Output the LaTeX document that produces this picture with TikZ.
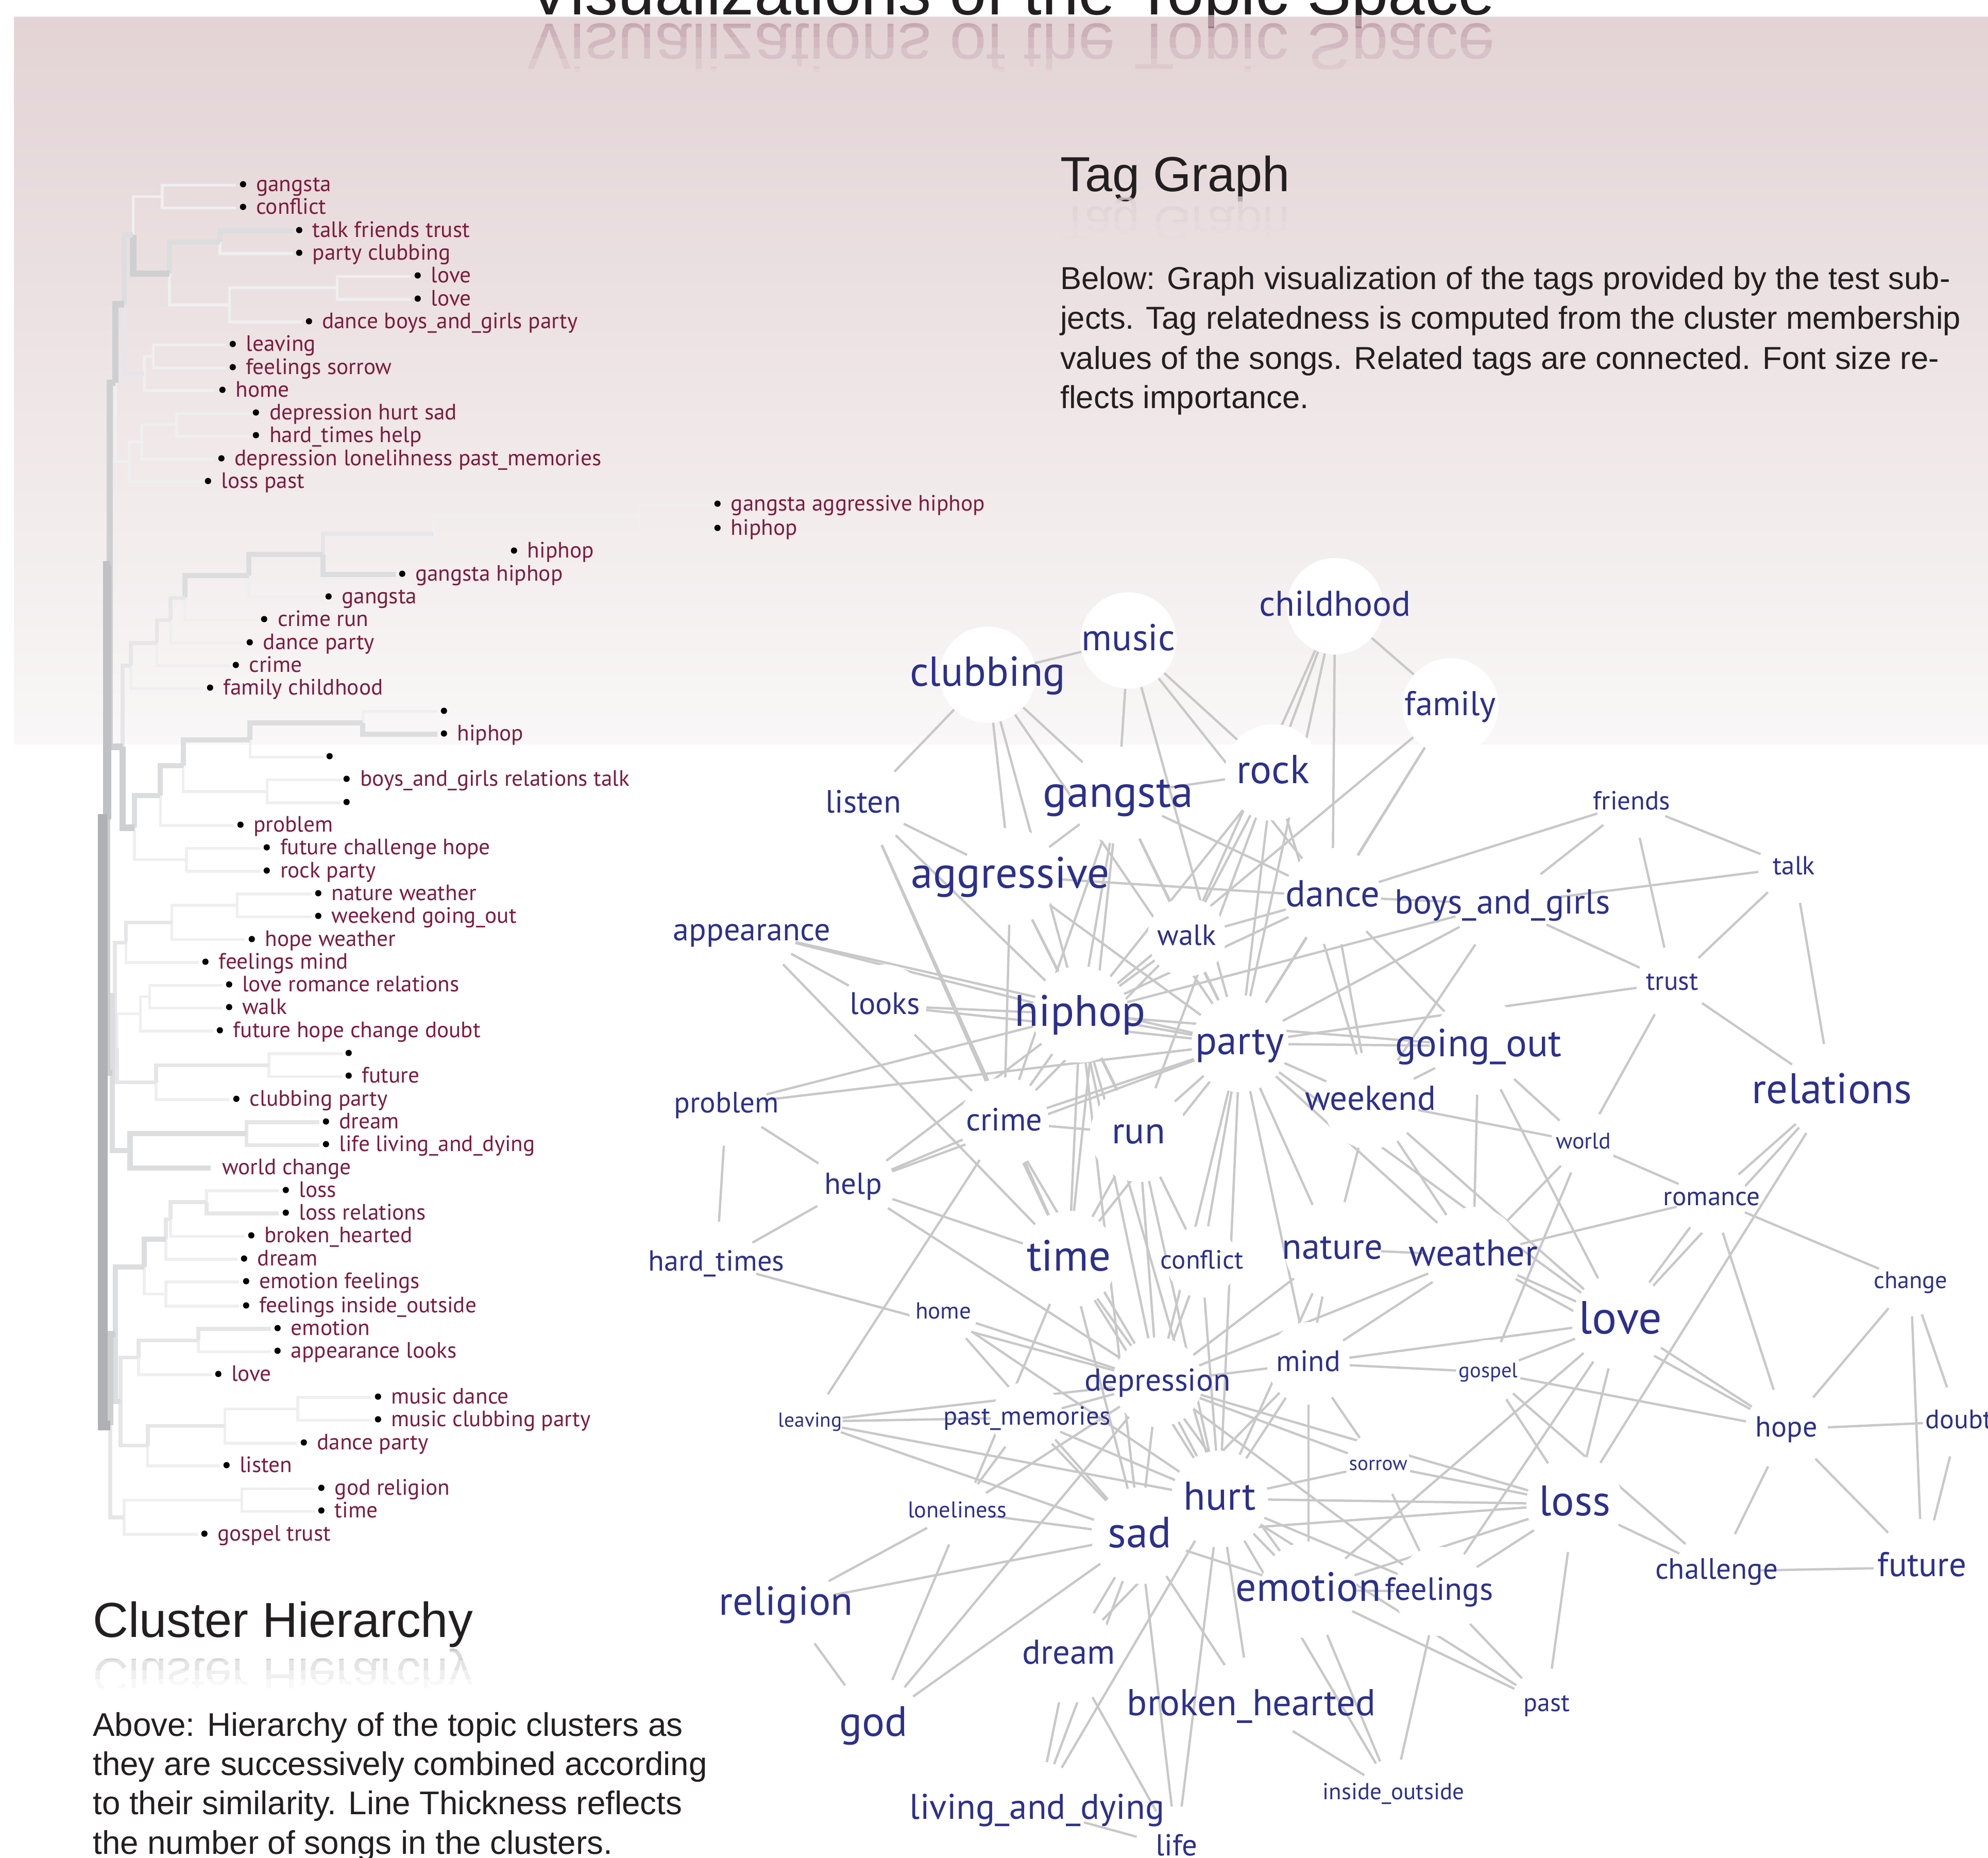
\documentclass[tikz,border=0pt]{standalone}
\usepackage{fontspec}
\setmainfont{Liberation Sans}
\newfontfamily\tagfont{PT Sans}

\pgfdeclarelayer{bg}
\pgfdeclarelayer{edges}
\pgfdeclarelayer{halos}
\pgfsetlayers{bg,edges,halos,main}

\definecolor{bgtop}{RGB}{227,211,213}
\definecolor{bgbot}{RGB}{249,247,247}
\definecolor{ink}{RGB}{35,31,32}
\definecolor{leafred}{RGB}{125,27,62}
\definecolor{tagblue}{RGB}{44,48,140}
\definecolor{linkgray}{RGB}{200,200,200}
\definecolor{mirrorpink}{RGB}{196,164,174}
\definecolor{mirrorrose}{RGB}{222,208,212}
\definecolor{mirrorgray}{RGB}{196,196,196}
\definecolor{br1}{RGB}{239,239,240}
\definecolor{br2}{RGB}{230,230,232}
\definecolor{br3}{RGB}{220,221,223}
\definecolor{br4}{RGB}{206,207,209}
\definecolor{br5}{RGB}{192,193,196}
\definecolor{br6}{RGB}{176,177,181}

\pgfdeclareverticalshading{backdrop}{100bp}{color(0bp)=(bgbot); color(25bp)=(bgbot); color(75bp)=(bgtop); color(100bp)=(bgtop)}

\newcommand\bul{\textcolor{black}{\textbullet}\hspace{4.5pt}}

\begin{document}
\begin{tikzpicture}[x=0.25mm, y=-0.25mm,
  d1/.style={draw=br1, line width=1.6pt},
  d2/.style={draw=br2, line width=2.2pt},
  d3/.style={draw=br3, line width=2.9pt},
  d4/.style={draw=br4, line width=3.6pt},
  d5/.style={draw=br5, line width=4.4pt},
  d6/.style={draw=br6, line width=5.6pt},
  leaf/.style={anchor=base west, inner sep=0pt, text=leafred, font=\tagfont\fontsize{12.5}{14}\selectfont},
  halo/.style={circle, fill=white, minimum size=#1, inner sep=0pt},
  link/.style={draw=linkgray, line width=1.3pt},
  tag/.style={anchor=base, inner sep=0pt, text=tagblue, yshift={-0.27*#1pt}, font=\tagfont\fontsize{#1}{#1}\selectfont},
  head/.style={anchor=base west, inner sep=0pt, text=ink, font=\fontsize{27.6}{30}\selectfont},
  mirror/.style={yscale=-1, transform shape},
  para/.style={anchor=base west, inner sep=0pt, text=ink, font=\fontsize{17.8}{22}\selectfont}]
\useasboundingbox (0,0) rectangle (1568,1465);

% background
\begin{pgfonlayer}{bg}
\fill[white] (0,0) rectangle (1568,1465);
\shade[shading=backdrop] (11,13) rectangle (1568,587);
\draw[gray!12, line width=0.8pt] (11,13) -- (1568,13);
\end{pgfonlayer}

% headings and their mirror images
\node[anchor=base, inner sep=0pt, text=ink, font=\fontsize{37.2}{40}\selectfont] (title) at (797.5,11.5) {Visualizations of the Topic Space};
\foreach \k/\o in {0/0.9, 1/0.72, 2/0.55, 3/0.38, 4/0.22, 5/0.08} {
  \begin{scope}
    \clip (380,{12+8.4*\k}) rectangle (1220,{12+8.4*(\k+1)});
    \node[anchor=base, inner sep=0pt, mirror, text=mirrorpink, text opacity=\o, font=\fontsize{37.2}{40}\selectfont] (title-m\k) at (797.5,19) {Visualizations of the Topic Space};
  \end{scope}}

\node[head] (tag-head) at (836,151) {Tag Graph};
\foreach \k/\o in {0/0.8, 1/0.6, 2/0.4, 3/0.22, 4/0.08} {
  \begin{scope}
    \clip (826,{153+7*\k}) rectangle (1030,{153+7*(\k+1)});
    \node[head, mirror, text=mirrorrose, text opacity=\o] (tag-head-m\k) at (836,163) {Tag Graph};
  \end{scope}}

\node[para] (tag-p1) at (836,228) {Below: Graph visualization of the tags provided by the test sub-};
\node[para] (tag-p2) at (836,259.5) {jects. Tag relatedness is computed from the cluster membership};
\node[para] (tag-p3) at (836,291) {values of the songs. Related tags are connected. Font size re-};
\node[para] (tag-p4) at (836,322) {flects importance.};

\node[head] (clu-head) at (73,1291) {Cluster Hierarchy};
\foreach \k/\o in {0/0.85, 1/0.65, 2/0.45, 3/0.27, 4/0.1} {
  \begin{scope}
    \clip (63,{1294+7.5*\k}) rectangle (390,{1294+7.5*(\k+1)});
    \node[head, mirror, text=mirrorgray, text opacity=\o] (clu-head-m\k) at (73,1308) {Cluster Hierarchy};
  \end{scope}}

\node[para, font=\fontsize{18.4}{22}\selectfont] (clu-p1) at (73,1369) {Above: Hierarchy of the topic clusters as};
\node[para, font=\fontsize{18.4}{22}\selectfont] (clu-p2) at (73,1400) {they are successively combined according};
\node[para, font=\fontsize{18.4}{22}\selectfont] (clu-p3) at (73,1431) {to their similarity. Line Thickness reflects};
\node[para, font=\fontsize{18.4}{22}\selectfont] (clu-p4) at (73,1462) {the number of songs in the clusters.};

% dendrogram, first block
\draw[d1] (186,146) -| (128,155);
\draw[d1] (186,164) -| (128,155);
\draw[d3] (231,182) -| (173.5,191);
\draw[d1] (231,200) -| (173.5,191);
\draw[d1] (324,218) -| (266,227);
\draw[d1] (324,236) -| (266,227);
\draw[d1] (266,227) -| (181,240.5);
\draw[d1] (238,254) -| (181,240.5);
\draw[d1] (181,240.5) -| (133.6,215.8);
\draw[d3] (173.5,191) -| (133.6,215.8);
\draw[d1] (128,155) -| (105,185.4);
\draw[d4] (133.6,215.8) -| (105,185.4);
\draw[d1] (178,272) -| (120.8,281);
\draw[d1] (178,290) -| (120.8,281);
\draw[d1] (120.8,281) -| (113.7,294.5);
\draw[d1] (170,308) -| (113.7,294.5);
\draw[d2] (113.7,294.5) -| (98,240);
\draw[d3] (105,185.4) -| (98,240);
\draw[d1] (197,326) -| (139.3,335);
\draw[d1] (197,344) -| (139.3,335);
\draw[d1] (139.3,335) -| (111.7,348.5);
\draw[d1] (169,362) -| (111.7,348.5);
\draw[d1] (111.7,348.5) -| (101.7,364);
\draw[d1] (159,380) -| (101.7,364);
\draw[d1] (101.7,364) -| (91,302);
\draw[d4] (98,240) -| (91,302);

% second block
\draw[d1] (561,398) -| (504,407.5);
\draw[d1] (561,417) -| (504,407.5);
\draw[d1] (504,407.5) -| (341.7,421);
\draw[d1] (400,435) -| (341.7,421);
\draw[d2] (341.7,421) -| (254.8,437);
\draw[d3] (312,453) -| (254.8,437);
\draw[d3] (254.8,437) -| (196.3,454);
\draw[d1] (254,471) -| (196.3,454);
\draw[d3] (196.3,454) -| (145.9,471.5);
\draw[d1] (203,489) -| (145.9,471.5);
\draw[d2] (145.9,471.5) -| (134.5,489);
\draw[d1] (192,507) -| (134.5,489);
\draw[d2] (134.5,489) -| (123.7,507);
\draw[d1] (181,525) -| (123.7,507);
\draw[d2] (123.7,507) -| (103.1,525);
\draw[d1] (160,543) -| (103.1,525);

% third block
\draw[d1] (345,561) -| (286.2,570);
\draw[d3] (345,579) -| (286.2,570);
\draw[d3] (286.2,570) -| (197.2,583.5);
\draw[d1] (255,597) -| (197.2,583.5);
\draw[d1] (268.5,615) -| (210.6,624);
\draw[d1] (268.5,633) -| (210.6,624);
\draw[d1] (210.6,624) -| (144.5,603.8);
\draw[d3] (197.2,583.5) -| (144.5,603.8);
\draw[d3] (144.5,603.8) -| (126.5,627.4);
\draw[d1] (184,651) -| (126.5,627.4);
\draw[d1] (205,669) -| (147,678);
\draw[d1] (205,687) -| (147,678);
\draw[d1] (147,678) -| (106,652.7);
\draw[d3] (126.5,627.4) -| (106,652.7);
\draw[d2] (103.1,525) -| (96.6,588.9);
\draw[d4] (106,652.7) -| (96.6,588.9);

% fourth block
\draw[d1] (246,705) -| (187.2,714);
\draw[d1] (246,723) -| (187.2,714);
\draw[d1] (187.2,714) -| (135.6,727.5);
\draw[d1] (193,741) -| (135.6,727.5);
\draw[d2] (135.6,727.5) -| (99.4,743.3);
\draw[d1] (157,759) -| (99.4,743.3);
\draw[d1] (175.5,777) -| (118,786);
\draw[d1] (175.5,795) -| (118,786);
\draw[d1] (118,786) -| (110.8,799.5);
\draw[d1] (168.4,813) -| (110.8,799.5);
\draw[d1] (270,831) -| (212,840);
\draw[d1] (270,849) -| (212,840);
\draw[d2] (212,840) -| (123.1,853.5);
\draw[d1] (181,867) -| (123.1,853.5);
\draw[d1] (110.8,799.5) -| (92.3,826.5);
\draw[d2] (123.1,853.5) -| (92.3,826.5);
\draw[d2] (99.4,743.3) -| (90.5,785);
\draw[d2] (92.3,826.5) -| (90.5,785);

% fifth block
\draw[d2] (252,885) -| (194.4,894);
\draw[d2] (252,903) -| (194.4,894);
\draw[d3] (194.4,894) -| (102.6,907.5);
\draw[d3] (166,921) -| (102.6,907.5);
\draw[d1] (220,939) -| (163,948);
\draw[d2] (220,957) -| (163,948);
\draw[d2] (163,948) -| (134.5,961.5);
\draw[d1] (193,975) -| (134.5,961.5);
\draw[d2] (134.5,961.5) -| (130.8,977);
\draw[d1] (187.5,993) -| (130.8,977);
\draw[d1] (188.6,1011) -| (130.8,1020.5);
\draw[d1] (188.6,1030) -| (130.8,1020.5);
\draw[d1] (130.8,1020.5) -| (113.7,999);
\draw[d3] (130.8,977) -| (113.7,999);
\draw[d2] (213.7,1048) -| (156.4,1057);
\draw[d1] (213.7,1066) -| (156.4,1057);
\draw[d2] (156.4,1057) -| (109.4,1070.5);
\draw[d1] (167,1084) -| (109.4,1070.5);
\draw[d1] (293,1102) -| (234.8,1111);
\draw[d1] (293,1120) -| (234.8,1111);
\draw[d1] (234.8,1111) -| (177.3,1124.5);
\draw[d1] (234.5,1138) -| (177.3,1124.5);
\draw[d2] (177.3,1124.5) -| (116.5,1140);
\draw[d1] (173.5,1156) -| (116.5,1140);
\draw[d2] (109.4,1070.5) -| (95.2,1105);
\draw[d2] (116.5,1140) -| (95.2,1105);
\draw[d1] (248.5,1174) -| (190.7,1183);
\draw[d1] (248.5,1192) -| (190.7,1183);
\draw[d1] (190.7,1183) -| (98,1196.5);
\draw[d1] (156,1210) -| (98,1196.5);

% trunk
\draw[d4] (91,302) -| (86.6,445.5);
\draw[d4] (96.6,588.9) -| (86.6,445.5);
\draw[d3] (90.5,785) -| (88.5,846);
\draw[d3] (102.6,907.5) -| (88.5,846);
\draw[d5] (86.6,445.5) -| (84.5,646);
\draw[d4] (88.5,846) -| (84.5,646);
\draw[d3] (113.7,999) -| (91,1052);
\draw[d3] (95.2,1105) -| (91,1052);
\draw[d4] (91,1052) -| (87,1124);
\draw[d2] (98,1196.5) -| (87,1124);
\draw[d6] (84.5,646) -| (81,885);
\draw[d6] (87,1124) -| (81,885);

% leaves
\node[leaf] (lf1) at (187.5,151) {\bul gangsta};
\node[leaf] (lf2) at (187.5,169) {\bul conflict};
\node[leaf] (lf3) at (232,187) {\bul talk friends trust};
\node[leaf] (lf4) at (232,205) {\bul party clubbing};
\node[leaf] (lf5) at (325.5,223) {\bul love};
\node[leaf] (lf6) at (325.5,241) {\bul love};
\node[leaf] (lf7) at (239.5,259) {\bul dance boys\_and\_girls party};
\node[leaf] (lf8) at (179.5,277) {\bul leaving};
\node[leaf] (lf9) at (179.5,295) {\bul feelings sorrow};
\node[leaf] (lf10) at (171.5,313) {\bul home};
\node[leaf] (lf11) at (198,331) {\bul depression hurt sad};
\node[leaf] (lf12) at (198,349) {\bul hard\_times help};
\node[leaf] (lf13) at (170.5,367) {\bul depression lonelihness past\_memories};
\node[leaf] (lf14) at (160,385) {\bul loss past};
\node[leaf] (lf15) at (562,403) {\bul gangsta aggressive hiphop};
\node[leaf] (lf16) at (562,422) {\bul hiphop};
\node[leaf] (lf17) at (401.5,440) {\bul hiphop};
\node[leaf] (lf18) at (313,458) {\bul gangsta hiphop};
\node[leaf] (lf19) at (255,476) {\bul gangsta};
\node[leaf] (lf20) at (204.5,494) {\bul crime run};
\node[leaf] (lf21) at (193,512) {\bul dance party};
\node[leaf] (lf22) at (182,530) {\bul crime};
\node[leaf] (lf23) at (161.5,548) {\bul family childhood};
\node[leaf] (lf24) at (346,566) {\bul};
\node[leaf] (lf25) at (346,584) {\bul hiphop};
\node[leaf] (lf26) at (256,602) {\bul};
\node[leaf] (lf27) at (269.5,620) {\bul boys\_and\_girls relations talk};
\node[leaf] (lf28) at (269.5,638) {\bul};
\node[leaf] (lf29) at (185.5,656) {\bul problem};
\node[leaf] (lf30) at (206.5,674) {\bul future challenge hope};
\node[leaf] (lf31) at (206.5,692) {\bul rock party};
\node[leaf] (lf32) at (247,710) {\bul nature weather};
\node[leaf] (lf33) at (247,728) {\bul weekend going\_out};
\node[leaf] (lf34) at (194.5,746) {\bul hope weather};
\node[leaf] (lf35) at (158,764) {\bul feelings mind};
\node[leaf] (lf36) at (176.5,782) {\bul love romance relations};
\node[leaf] (lf37) at (176.5,800) {\bul walk};
\node[leaf] (lf38) at (169.5,818) {\bul future hope change doubt};
\node[leaf] (lf39) at (271,836) {\bul};
\node[leaf] (lf40) at (271,854) {\bul future};
\node[leaf] (lf41) at (182.5,872) {\bul clubbing party};
\node[leaf] (lf42) at (253,890) {\bul dream};
\node[leaf] (lf43) at (253,908) {\bul life living\_and\_dying};
\node[leaf] (lf44) at (175,926) {world change};
\node[leaf] (lf45) at (221.5,944) {\bul loss};
\node[leaf] (lf46) at (221.5,962) {\bul loss relations};
\node[leaf] (lf47) at (194,980) {\bul broken\_hearted};
\node[leaf] (lf48) at (188.5,998) {\bul dream};
\node[leaf] (lf49) at (190,1016) {\bul emotion feelings};
\node[leaf] (lf50) at (190,1035) {\bul feelings inside\_outside};
\node[leaf] (lf51) at (215,1053) {\bul emotion};
\node[leaf] (lf52) at (215,1071) {\bul appearance looks};
\node[leaf] (lf53) at (168,1089) {\bul love};
\node[leaf] (lf54) at (294,1107) {\bul music dance};
\node[leaf] (lf55) at (294,1125) {\bul music clubbing party};
\node[leaf] (lf56) at (235.5,1143) {\bul dance party};
\node[leaf] (lf57) at (174.5,1161) {\bul listen};
\node[leaf] (lf58) at (249.5,1179) {\bul god religion};
\node[leaf] (lf59) at (249.5,1197) {\bul time};
\node[leaf] (lf60) at (157,1215) {\bul gospel trust};

% tag graph: halos
\begin{pgfonlayer}{halos}
\foreach \n/\x/\y/\r in {clubbing/779/532/54, music/890/505/54, childhood/1053/478/54,
  family/1144/557/54, rock/1004/609/54, gangsta/882/627/54, listen/681/634/50,
  friends/1287/633/40, talk/1415/684/40, aggressive/797/691/54, dance/1051/707/54,
  boysgirls/1185/713/54, appearance/593/735/50, walk/936/739/44, trust/1319/775/40,
  looks/698/793/46, hiphop/852/800/54, party/978/823/54, goingout/1166/825/54,
  relations/1445/861/54, problem/573/871/46, weekend/1081/868/54, crime/792/885/50,
  run/898/894/54, world/1249/901/36, help/673/935/46, romance/1350/945/40,
  time/843/993/54, hardtimes/565/996/46, conflict/948/995/40, nature/1051/985/54,
  weather/1162/990/54, change/1507/1011/38, love/1278/1042/54, home/744/1035/38,
  mind/1032/1075/46, depression/913/1090/50, gospel/1174/1082/36, leaving/639/1121/36,
  pastmemories/810/1118/40, hope/1409/1127/46, doubt/1545/1121/40, sorrow/1087/1155/36,
  hurt/962/1182/54, loss/1242/1186/54, loneliness/755/1192/38, sad/899/1211/54,
  challenge/1354/1239/46, future/1516/1236/54, emotion/1032/1254/54, feelings/1135/1255/50,
  religion/620/1265/54, dream/843/1305/54, past/1220/1344/40, brokenhearted/987/1345/54,
  god/689/1360/54, insideoutside/1099/1414/38, livingdying/818/1427/54, life/928/1457/46}
  \node[halo=\r pt] (\n) at (\x,\y) {};
\end{pgfonlayer}

% tag graph: links
\begin{pgfonlayer}{edges}
\foreach \a/\b in {clubbing/music, clubbing/listen, clubbing/gangsta, clubbing/hiphop, clubbing/party, clubbing/aggressive,
  music/gangsta, music/party, music/dance, music/rock,
  childhood/rock, childhood/family, childhood/dance, childhood/party, childhood/walk,
  family/party, family/hiphop, family/dance,
  rock/gangsta, rock/party, rock/hiphop, rock/walk, rock/weekend, rock/run,
  gangsta/hiphop, gangsta/aggressive, gangsta/party, gangsta/dance, gangsta/crime, gangsta/walk, gangsta/time,
  listen/hiphop, listen/time, listen/aggressive, listen/crime,
  aggressive/hiphop, aggressive/dance, aggressive/party, aggressive/crime, aggressive/run,
  appearance/looks, appearance/hiphop, appearance/time, appearance/party,
  looks/hiphop, looks/party, looks/crime,
  dance/party, dance/hiphop, dance/boysgirls, dance/weekend, dance/goingout, dance/walk, dance/friends,
  boysgirls/friends, boysgirls/talk, boysgirls/trust, boysgirls/party, boysgirls/hiphop, boysgirls/weekend,
  friends/talk, friends/trust, talk/trust, talk/relations, trust/relations, trust/party, trust/world,
  walk/party, walk/hiphop, walk/crime,
  hiphop/party, hiphop/crime, hiphop/run, hiphop/time, hiphop/depression, hiphop/help, hiphop/problem,
  hiphop/sad, hiphop/goingout, hiphop/conflict, hiphop/hurt,
  party/goingout, party/weekend, party/run, party/crime, party/nature, party/weather, party/love,
  party/depression, party/time, party/problem, party/help, party/conflict, party/mind, party/hurt,
  goingout/weekend, goingout/world, goingout/love, goingout/weather,
  weekend/weather, weekend/nature, weekend/world, weekend/love,
  relations/romance, relations/loss, relations/love,
  world/romance, world/gospel, world/weather,
  romance/change, romance/weather, romance/love, romance/hope,
  weather/nature, weather/love, weather/mind, weather/depression, weather/hope,
  nature/depression, nature/mind, nature/hurt,
  change/hope, change/doubt, change/future,
  hope/doubt, hope/future, hope/challenge, hope/love, hope/gospel,
  doubt/future, challenge/future, challenge/loss, challenge/gospel,
  love/loss, love/gospel, love/mind, love/feelings, love/emotion,
  crime/run, crime/help, crime/time, crime/depression, crime/leaving,
  run/time, run/depression, run/hurt,
  problem/help, problem/hardtimes, help/hardtimes, help/depression, help/time,
  hardtimes/depression,
  time/depression, time/sad, time/hurt, time/god,
  conflict/depression, conflict/hurt,
  home/depression, home/sad, home/hurt,
  mind/depression, mind/hurt, mind/sad, mind/emotion, mind/sorrow, mind/gospel,
  depression/hurt, depression/sad, depression/loneliness, depression/pastmemories, depression/sorrow,
  depression/feelings, depression/emotion, depression/leaving, depression/loss, depression/god,
  pastmemories/sad, pastmemories/hurt, pastmemories/leaving, pastmemories/loneliness,
  leaving/sad, leaving/hurt,
  hurt/sad, hurt/loss, hurt/brokenhearted, hurt/feelings, hurt/emotion, hurt/sorrow, hurt/past,
  hurt/insideoutside, hurt/life,
  sad/loneliness, sad/religion, sad/god, sad/dream, sad/livingdying, sad/life, sad/brokenhearted,
  sad/emotion, sad/loss,
  loneliness/religion, religion/god,
  dream/life, dream/livingdying, dream/hurt, livingdying/life, livingdying/hurt,
  emotion/feelings, emotion/insideoutside, emotion/past, emotion/loss,
  feelings/insideoutside, feelings/sorrow, feelings/past, feelings/loss,
  loss/past, loss/sorrow, loss/gospel, brokenhearted/insideoutside}
  \draw[link] (\a) -- (\b);
\end{pgfonlayer}

% tag graph: labels
\node[tag=23.5] (clubbing-t) at (clubbing) {clubbing};
\node[tag=21] (music-t) at (music) {music};
\node[tag=20] (childhood-t) at (childhood) {childhood};
\node[tag=19.3] (family-t) at (family) {family};
\node[tag=22.7] (rock-t) at (rock) {rock};
\node[tag=25] (gangsta-t) at (gangsta) {gangsta};
\node[tag=18] (listen-t) at (listen) {listen};
\node[tag=14.7] (friends-t) at (friends) {friends};
\node[tag=14.7] (talk-t) at (talk) {talk};
\node[tag=24.7] (aggressive-t) at (aggressive) {aggressive};
\node[tag=21] (dance-t) at (dance) {dance};
\node[tag=19.5] (boysgirls-t) at (boysgirls) {boys\_and\_girls};
\node[tag=18] (appearance-t) at (appearance) {appearance};
\node[tag=16.4] (walk-t) at (walk) {walk};
\node[tag=14.8] (trust-t) at (trust) {trust};
\node[tag=17.5] (looks-t) at (looks) {looks};
\node[tag=24.7] (hiphop-t) at (hiphop) {hiphop};
\node[tag=22.5] (party-t) at (party) {party};
\node[tag=22] (goingout-t) at (goingout) {going\_out};
\node[tag=24] (relations-t) at (relations) {relations};
\node[tag=16.5] (problem-t) at (problem) {problem};
\node[tag=19.4] (weekend-t) at (weekend) {weekend};
\node[tag=18] (crime-t) at (crime) {crime};
\node[tag=21] (run-t) at (run) {run};
\node[tag=12.7] (world-t) at (world) {world};
\node[tag=17] (help-t) at (help) {help};
\node[tag=14.8] (romance-t) at (romance) {romance};
\node[tag=24.5] (time-t) at (time) {time};
\node[tag=16.3] (hardtimes-t) at (hardtimes) {hard\_times};
\node[tag=14.7] (conflict-t) at (conflict) {conflict};
\node[tag=20.4] (nature-t) at (nature) {nature};
\node[tag=20.9] (weather-t) at (weather) {weather};
\node[tag=13.4] (change-t) at (change) {change};
\node[tag=26] (love-t) at (love) {love};
\node[tag=13] (home-t) at (home) {home};
\node[tag=16.6] (mind-t) at (mind) {mind};
\node[tag=17.7] (depression-t) at (depression) {depression};
\node[tag=11.7] (gospel-t) at (gospel) {gospel};
\node[tag=11.4] (leaving-t) at (leaving) {leaving};
\node[tag=14.6] (pastmemories-t) at (pastmemories) {past\_memories};
\node[tag=16.3] (hope-t) at (hope) {hope};
\node[tag=15] (doubt-t) at (doubt) {doubt};
\node[tag=11.3] (sorrow-t) at (sorrow) {sorrow};
\node[tag=22.5] (hurt-t) at (hurt) {hurt};
\node[tag=24] (loss-t) at (loss) {loss};
\node[tag=12.8] (loneliness-t) at (loneliness) {loneliness};
\node[tag=24.5] (sad-t) at (sad) {sad};
\node[tag=16.5] (challenge-t) at (challenge) {challenge};
\node[tag=19.3] (future-t) at (future) {future};
\node[tag=23] (emotion-t) at (emotion) {emotion};
\node[tag=18] (feelings-t) at (feelings) {feelings};
\node[tag=22.8] (religion-t) at (religion) {religion};
\node[tag=19.3] (dream-t) at (dream) {dream};
\node[tag=14.4] (past-t) at (past) {past};
\node[tag=21] (brokenhearted-t) at (brokenhearted) {broken\_hearted};
\node[tag=23.8] (god-t) at (god) {god};
\node[tag=13] (insideoutside-t) at (insideoutside) {inside\_outside};
\node[tag=20] (livingdying-t) at (livingdying) {living\_and\_dying};
\node[tag=17] (life-t) at (life) {life};
\end{tikzpicture}
\end{document}
